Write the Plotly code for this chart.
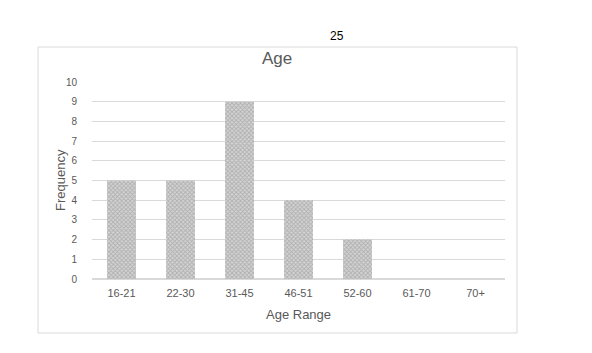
import plotly.graph_objects as go

categories = ["16-21", "22-30", "31-45", "46-51", "52-60", "61-70", "70+"]
frequency = [5, 5, 9, 4, 2, 0, 0]
y_ticks = list(range(0, 11))

W, H = 592, 353
L, R, T, B = 92, 87, 82, 74
pw, ph = W - L - R, H - T - B

def px_x(p):
    return (p - L) / pw

def px_y(p):
    return (H - B - p) / ph

fig = go.Figure(go.Bar(
    x=categories, y=frequency,
    marker=dict(color="white", line=dict(width=0),
                pattern=dict(shape="x", fgcolor="#8a8a8a", bgcolor="#d4d4d4", size=3, solidity=0.5)),
    width=0.49,
))

fig.update_layout(
    width=W, height=H, margin=dict(l=L, r=R, t=T, b=B),
    paper_bgcolor="white", plot_bgcolor="white",
    font=dict(family="Liberation Sans, Arial, sans-serif", color="#595959"),
    showlegend=False,
    xaxis=dict(showgrid=False, zeroline=False, showline=False, ticks="",
               tickfont=dict(size=11, color="#595959"), ticklabelstandoff=6),
    yaxis=dict(range=[0, 10], tickvals=y_ticks, showgrid=True, gridcolor="#d9d9d9",
               gridwidth=1, zeroline=True, zerolinecolor="#d9d9d9", showline=False,
               ticks="", tickfont=dict(size=10, color="#595959"), ticklabelstandoff=14),
    shapes=[dict(type="rect", xref="paper", yref="paper",
                 x0=px_x(38), x1=px_x(517), y0=px_y(333), y1=px_y(47),
                 line=dict(color="#d9d9d9", width=1), fillcolor="rgba(0,0,0,0)", layer="below")],
    annotations=[
        dict(text="25", xref="paper", yref="paper", x=px_x(337), y=px_y(36),
             showarrow=False, font=dict(size=12, color="black"), xanchor="center", yanchor="middle"),
        dict(text="Age", xref="paper", yref="paper", x=px_x(277), y=px_y(58),
             showarrow=False, font=dict(size=17, color="#595959"), xanchor="center", yanchor="middle"),
        dict(text="Frequency", xref="paper", yref="paper", x=px_x(60), y=px_y(180),
             showarrow=False, textangle=-90, font=dict(size=13, color="#595959"),
             xanchor="center", yanchor="middle"),
        dict(text="Age Range", xref="paper", yref="paper", x=px_x(298), y=px_y(314),
             showarrow=False, font=dict(size=13, color="#595959"), xanchor="center", yanchor="middle"),
    ],
)

fig.write_html("out.html")
